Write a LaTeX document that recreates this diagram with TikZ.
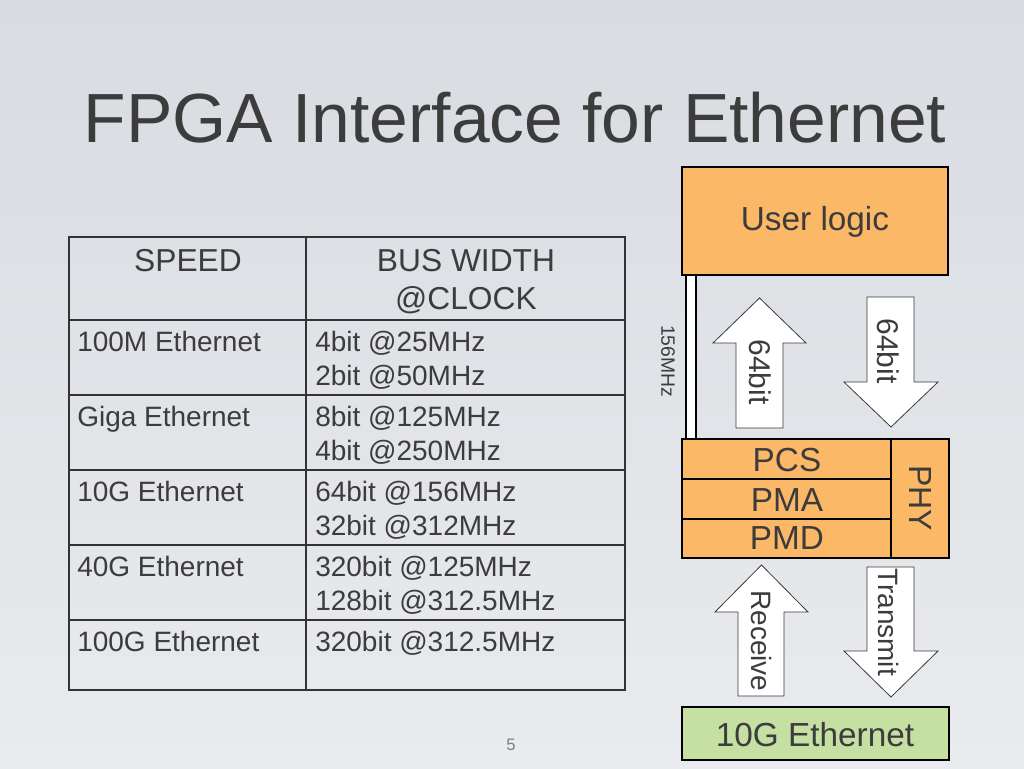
\documentclass[tikz,border=0pt]{standalone}
\usepackage{fontspec}
\setmainfont{Liberation Sans}
\begin{document}
\begin{tikzpicture}[x=0.75pt,y=-0.75pt,
  txt/.style={inner sep=0pt,text=textgray},
  tbl/.style={txt,font=\fontsize{21}{25}\selectfont,anchor=base west},
  hdr/.style={txt,font=\fontsize{23.8}{28}\selectfont,anchor=base},
  grid/.style={draw=linegray,line width=1.5pt},
  blk/.style={draw=black,line width=1.5pt},
  barrow/.style={draw=arrowgray,line width=0.6pt,fill=white},
  vtxt/.style={txt,rotate=-90},
]
\definecolor{textgray}{HTML}{3C3C3C}
\definecolor{linegray}{HTML}{333333}
\definecolor{arrowgray}{HTML}{3A3A3A}
\definecolor{orangefill}{HTML}{FBB867}
\definecolor{greenfill}{HTML}{C6E0A4}
\definecolor{bgtop}{HTML}{D8DBE0}
\definecolor{bgbot}{HTML}{E9EBEE}
\useasboundingbox (0,0) rectangle (1024,768);
\shade[top color=bgtop,bottom color=bgbot] (0,0) rectangle (1024,768);
% title
\node[txt,anchor=base,font=\fontsize{52.2}{60}\selectfont] (title) at (515,142) {FPGA Interface for Ethernet};
% table
\draw[grid] (69,237) rectangle (625,690);
\draw[grid] (306,237) -- (306,690);
\foreach \yy in {320,395,470,545,620} \draw[grid] (69,\yy) -- (625,\yy);
\node[hdr] (h1) at (188,271) {SPEED};
\node[hdr] (h2) at (466,271) {BUS WIDTH};
\node[hdr] (h3) at (466,309) {@CLOCK};
\node[tbl] (s1) at (77,351) {100M Ethernet};
\node[tbl] (s2) at (77,426) {Giga Ethernet};
\node[tbl] (s3) at (77,501) {10G Ethernet};
\node[tbl] (s4) at (77,576) {40G Ethernet};
\node[tbl] (s5) at (77,651) {100G Ethernet};
\node[tbl] (b1a) at (315,351) {4bit @25MHz};
\node[tbl] (b1b) at (315,385) {2bit @50MHz};
\node[tbl] (b2a) at (315,426) {8bit @125MHz};
\node[tbl] (b2b) at (315,460) {4bit @250MHz};
\node[tbl] (b3a) at (315,501) {64bit @156MHz};
\node[tbl] (b3b) at (315,535) {32bit @312MHz};
\node[tbl] (b4a) at (315,576) {320bit @125MHz};
\node[tbl] (b4b) at (315,610) {128bit @312.5MHz};
\node[tbl] (b5a) at (315,651) {320bit @312.5MHz};
% user logic
\draw[blk,fill=orangefill] (682,167) rectangle (948,275);
\node[txt,font=\fontsize{25}{30}\selectfont] (user) at (815,222) {User logic};
% clock bar
\draw[blk,line width=1.2pt,fill=white] (686,275) rectangle (696,439);
\node[vtxt,font=\fontsize{14.5}{17}\selectfont] (clk) at (668,361) {156MHz};
% 64bit arrows
\draw[barrow] (736,428) -- (736,343) -- (713,343) -- (759.5,298) -- (806,343) -- (783,343) -- (783,428) -- cycle;
\node[vtxt,font=\fontsize{22.5}{27}\selectfont] (up64) at (760,372) {64bit};
\draw[barrow] (867,297) -- (867,382) -- (844,382) -- (891,427) -- (938,382) -- (914,382) -- (914,297) -- cycle;
\node[vtxt,font=\fontsize{22.5}{27}\selectfont] (dn64) at (888,351) {64bit};
% PHY block
\draw[blk,fill=orangefill] (682,439) rectangle (949,558);
\draw[blk] (891,439) -- (891,558);
\draw[blk] (682,479) -- (891,479);
\draw[blk] (682,519) -- (891,519);
\node[txt,font=\fontsize{25}{30}\selectfont] (pcs) at (787,460) {PCS};
\node[txt,font=\fontsize{25}{30}\selectfont] (pma) at (787,500) {PMA};
\node[txt,font=\fontsize{25}{30}\selectfont] (pmd) at (787,538) {PMD};
\node[vtxt,font=\fontsize{24}{29}\selectfont] (phy) at (920,498) {PHY};
% receive / transmit arrows
\draw[barrow] (738,696) -- (738,612) -- (715,612) -- (761.5,565) -- (808,612) -- (784,612) -- (784,696) -- cycle;
\node[vtxt,font=\fontsize{21}{25}\selectfont] (rx) at (761,641) {Receive};
\draw[barrow] (867,567) -- (867,651) -- (844,651) -- (891,697) -- (938,651) -- (914,651) -- (914,567) -- cycle;
\node[vtxt,font=\fontsize{21}{25}\selectfont] (tx) at (888,622) {Transmit};
% 10G Ethernet
\draw[blk,fill=greenfill] (682,707) rectangle (949,760);
\node[txt,font=\fontsize{25}{30}\selectfont] (eth) at (815,735) {10G Ethernet};
% page number
\node[txt,text=gray,font=\fontsize{12.5}{15}\selectfont] (pg) at (511,745) {5};
\end{tikzpicture}
\end{document}
